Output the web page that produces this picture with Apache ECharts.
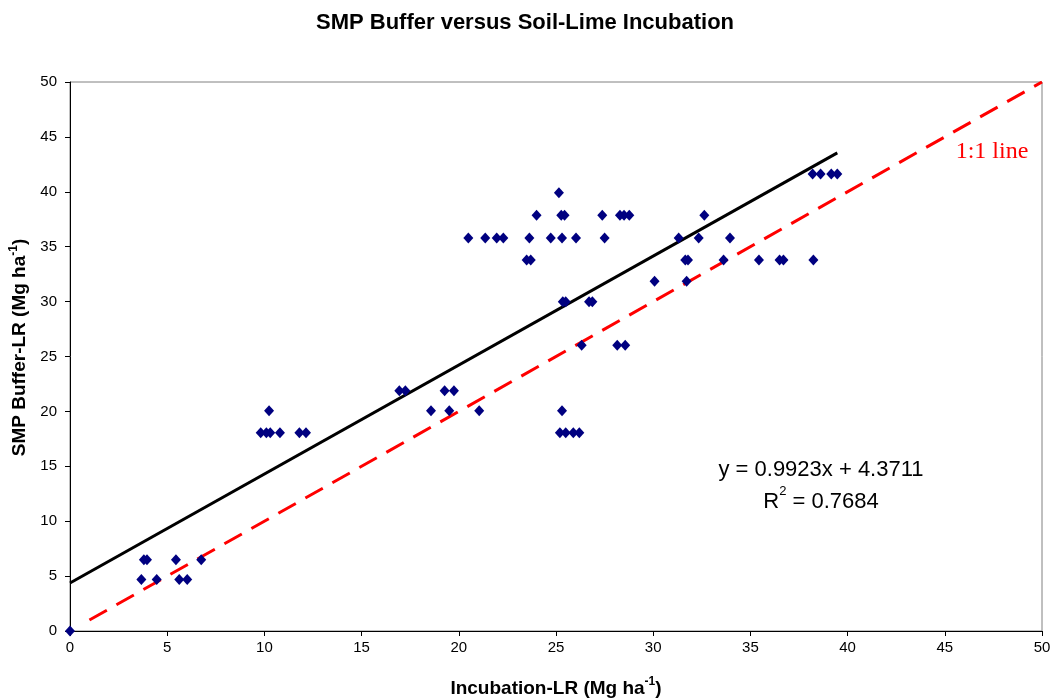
<!DOCTYPE html>
<html><head><meta charset="utf-8">
<script src="https://cdn.jsdelivr.net/npm/echarts@6/dist/echarts.min.js"></script>
<style>html,body{margin:0;padding:0;background:#fff}#c{width:1050px;height:698px}</style>
</head><body><div id="c"></div>
<script>
// Observed data: Incubation-LR (x) vs SMP Buffer-LR (y)
const pointsX = [
  0,
  3.67, 4.46, 5.62, 6.03,
  3.80, 3.96, 5.45, 6.75,
  9.81, 10.10, 10.30, 10.80, 11.80, 12.14, 25.20, 25.50, 25.89, 26.20,
  10.24, 18.57, 19.51, 21.05, 25.31,
  16.94, 17.25, 19.27, 19.75,
  26.32, 28.15, 28.56,
  25.35, 25.50, 26.70, 26.87,
  30.07, 31.72,
  23.49, 23.70, 31.65, 31.79, 33.62, 35.44, 36.50, 36.70, 38.24,
  20.49, 21.36, 21.95, 22.29, 23.63, 24.73, 25.31, 26.03, 27.50, 31.31, 32.34, 33.95,
  24.00, 25.27, 25.44, 27.38, 28.29, 28.50, 28.77, 32.63,
  25.15,
  38.20, 38.61, 39.16, 39.47
];
const pointsY = [
  0,
  4.7, 4.7, 4.7, 4.7,
  6.5, 6.5, 6.5, 6.5,
  18.06, 18.06, 18.06, 18.06, 18.06, 18.06, 18.06, 18.06, 18.06, 18.06,
  20.06, 20.06, 20.06, 20.06, 20.06,
  21.88, 21.88, 21.88, 21.88,
  26.02, 26.02, 26.02,
  29.99, 29.99, 29.99, 29.99,
  31.85, 31.85,
  33.79, 33.79, 33.79, 33.79, 33.79, 33.79, 33.79, 33.79, 33.79,
  35.79, 35.79, 35.79, 35.79, 35.79, 35.79, 35.79, 35.79, 35.79, 35.79, 35.79, 35.79,
  37.86, 37.86, 37.86, 37.86, 37.86, 37.86, 37.86, 37.86,
  39.92,
  41.62, 41.62, 41.62, 41.62
];
// Linear fit y = 0.9923x + 4.3711 drawn over the data range
const trendX = [0, 39.47];
const trendY = [4.37, 43.54];
// 1:1 reference line
const oneToOneX = [1, 50];
const oneToOneY = [1, 50];
const eqText = 'y = 0.9923x + 4.3711';
const r2Value = '0.7684';
const titleText = 'SMP Buffer versus Soil-Lime Incubation';

const chart = echarts.init(document.getElementById('c'), null, {renderer: 'canvas'});
const font = 'Liberation Sans, Arial, sans-serif';
const pts = pointsX.map((x, i) => [x, pointsY[i]]);
const trend = trendX.map((x, i) => [x, trendY[i]]);
const ref = oneToOneX.map((x, i) => [x, oneToOneY[i]]);
const nameRich = {
  b: {fontFamily: font, fontWeight: 'bold', fontSize: 19, color: '#000', lineHeight: 22, verticalAlign: 'bottom'},
  s: {fontFamily: font, fontWeight: 'bold', fontSize: 12, color: '#000', lineHeight: 22, verticalAlign: 'top'}
};

chart.setOption({
  animation: false,
  backgroundColor: '#fff',
  title: {
    text: titleText, left: 'center', top: 7,
    textStyle: {fontFamily: font, fontWeight: 'bold', fontSize: 22, color: '#000'}
  },
  grid: {left: 70, right: 8, top: 82, bottom: 67, show: true, borderColor: '#808080', borderWidth: 1,
         containLabel: false, outerBoundsMode: 'none'},
  xAxis: {
    type: 'value', min: 0, max: 50, interval: 5,
    axisLine: {lineStyle: {color: '#000', width: 1}},
    axisTick: {show: true, length: 5, lineStyle: {color: '#000'}},
    axisLabel: {fontFamily: font, fontSize: 15, color: '#000', margin: 9},
    splitLine: {show: false},
    name: '{b|Incubation-LR (Mg ha}{s|-1}{b|)}',
    nameLocation: 'middle', nameGap: 45,
    nameTextStyle: {rich: nameRich}
  },
  yAxis: {
    type: 'value', min: 0, max: 50, interval: 5,
    axisLine: {show: true, lineStyle: {color: '#000', width: 1}},
    axisTick: {show: true, length: 5, lineStyle: {color: '#000'}},
    axisLabel: {fontFamily: font, fontSize: 15, color: '#000', margin: 13},
    splitLine: {show: false},
    name: '{b|SMP Buffer-LR (Mg ha}{s|-1}{b|)}',
    nameLocation: 'middle', nameGap: 37,
    nameTextStyle: {rich: nameRich, padding: [0, 0, 0, 18]}
  },
  series: [
    {
      type: 'line', data: ref, symbol: 'none', silent: true, z: 2,
      lineStyle: {color: '#ff0000', width: 3, type: [20, 11]}
    },
    {
      type: 'line', data: trend, symbol: 'none', silent: true, z: 3,
      lineStyle: {color: '#000', width: 3}
    },
    {
      type: 'scatter', data: pts, symbol: 'diamond', symbolSize: [10, 11], z: 4,
      itemStyle: {color: '#000080', opacity: 1}
    }
  ],
  graphic: [
    {type: 'text', x: 821, y: 470, style: {text: eqText, font: '22px ' + font, fill: '#000',
      textAlign: 'center', textVerticalAlign: 'middle'}},
    {type: 'text', x: 821, y: 499, style: {
      text: '{a|R}{s|2}{a| = ' + r2Value + '}',
      textAlign: 'center', textVerticalAlign: 'middle',
      rich: {
        a: {fontFamily: font, fontSize: 22, color: '#000', lineHeight: 28, verticalAlign: 'bottom'},
        s: {fontFamily: font, fontSize: 13, color: '#000', lineHeight: 28, verticalAlign: 'top'}
      }
    }},
    {type: 'text', x: 992, y: 152, style: {text: '1:1 line', font: '24px Liberation Serif, Times New Roman, serif', fill: '#ff0000',
      textAlign: 'center', textVerticalAlign: 'middle'}}
  ]
});
</script></body></html>
